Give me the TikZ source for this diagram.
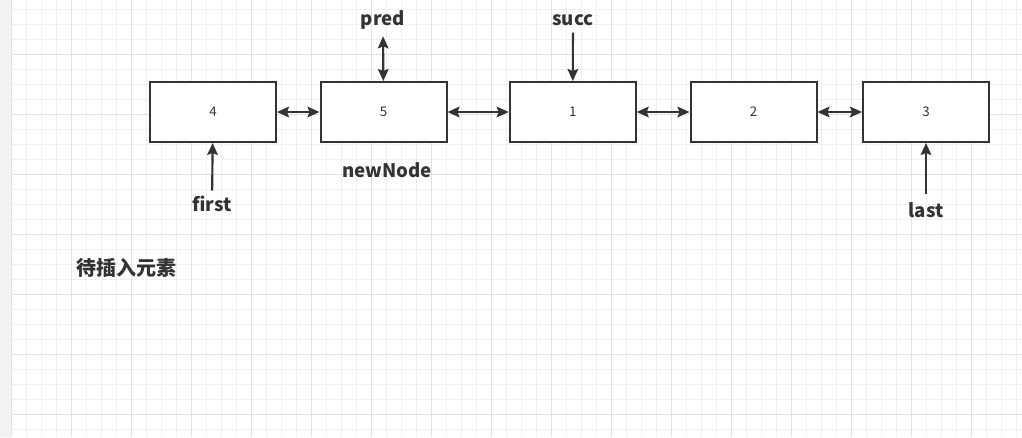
\documentclass[tikz,border=0pt]{standalone}
\usepackage{fontspec}
\setmainfont{Noto Sans CJK SC}
\usetikzlibrary{arrows.meta,positioning}
\definecolor{Ink}{HTML}{333333}
\definecolor{GridMinor}{HTML}{F0F0F0}
\definecolor{GridMajor}{HTML}{E2E2E2}
\definecolor{Strip}{HTML}{F2F2F2}

\begin{document}
\begin{tikzpicture}[
  x=0.75pt,y=-0.75pt,
  cell/.style={draw=Ink,line width=1.5pt,fill=white,minimum width=94.5pt,minimum height=45pt,inner sep=0pt,font=\fontsize{10}{12}\selectfont,text=Ink},
  tag/.style={inner sep=0pt,font=\fontsize{14}{17}\selectfont\bfseries,text=Ink},
  link/.style={draw=Ink,line width=1.6pt,{Stealth[length=9pt,width=8pt,inset=1.5pt]}-{Stealth[length=9pt,width=8pt,inset=1.5pt]}},
  ptr/.style={draw=Ink,line width=1.6pt,-{Stealth[length=9pt,width=8pt,inset=1.5pt]}}
]
\useasboundingbox (0,0) rectangle (1022,437);
% paper
\fill[white] (0,0) rectangle (1022,437);
\fill[Strip] (0,0) rectangle (11,437);
\foreach \i in {0,...,67} \draw[GridMinor,line width=0.75pt] (11.7+15*\i,0) -- (11.7+15*\i,437);
\foreach \j in {0,...,28} \draw[GridMinor,line width=0.75pt] (11,9.3+15*\j) -- (1022,9.3+15*\j);
\foreach \i in {0,...,16} \draw[GridMajor,line width=0.75pt] (11.7+60*\i,0) -- (11.7+60*\i,437);
\foreach \j in {0,...,6} \draw[GridMajor,line width=0.75pt] (11,54.3+60*\j) -- (1022,54.3+60*\j);

% list cells
\node[cell] (n4) at (213,112) {4};
\node[cell] (n5) at (383.5,112) {5};
\node[cell] (n1) at (572.7,112) {1};
\node[cell] (n2) at (753.5,112) {2};
\node[cell] (n3) at (926,112) {3};

\draw[link] (n4) -- (n5);
\draw[link] (n5) -- (n1);
\draw[link] (n1) -- (n2);
\draw[link] (n2) -- (n3);

% pointers
\node[tag] (pred) at (383,20) {pred};
\node[tag] (succ) at (573,20) {succ};
\node[tag] (newnode) at (387,170) {newNode};
\node[tag] (first) at (212,204) {first};
\node[tag] (last) at (926,210) {last};
\node[tag,font=\fontsize{15}{18}\selectfont\bfseries] (todo) at (126,268) {待插入元素};

\draw[link,shorten <=5pt] (pred) -- (n5);
\draw[ptr,shorten <=5pt] (succ) -- (n1);
\draw[ptr,shorten <=4pt] (first) -- (n4);
\draw[ptr,shorten <=6pt] (last) -- (n3);
\end{tikzpicture}
\end{document}
